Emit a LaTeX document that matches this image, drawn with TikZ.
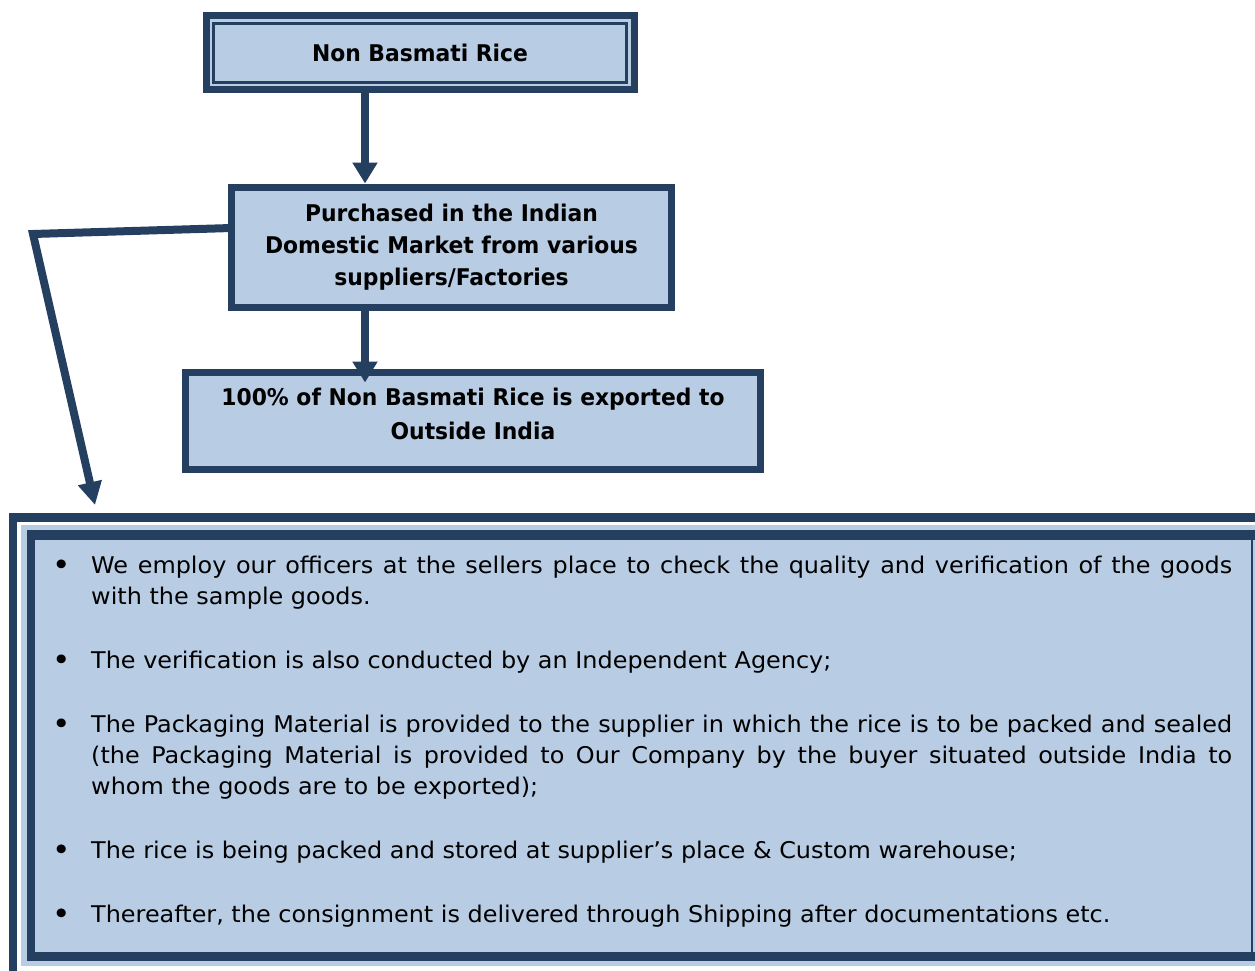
\documentclass[tikz,border=0pt]{standalone}
\usepackage{fontspec}
\setmainfont{DejaVu Sans}[FakeStretch=1.04]
\newfontfamily\boxfont{DejaVu Sans}[FakeStretch=0.95]
\usetikzlibrary{arrows.meta,calc}
\definecolor{navy}{HTML}{243F60}
\definecolor{paleblue}{HTML}{B8CCE4}
\newcommand{\itemdot}{\leavevmode\llap{\raisebox{-2pt}{\fontsize{30}{30}\selectfont\textbullet}\hspace{20pt}}}

\begin{document}
\begin{tikzpicture}[x=1pt,y=-1pt,
  boxframe/.style={draw=navy, fill=paleblue, line width=7pt, inner sep=0pt, outer sep=0pt},
  boxtext/.style={font=\fontsize{23}{32}\selectfont\boxfont\bfseries, align=center, text=black},
  flow/.style={draw=navy, line width=8pt, -{Triangle[width=24pt,length=21pt]}},
]
\useasboundingbox (0,0) rectangle (1255,971);
\clip (0,0) rectangle (1255,971);

% bottom panel: outer thick frame, white gap, pale band, inner framed panel
\fill[navy] (9,513) rectangle (1270,990);
\fill[white] (17,522) rectangle (1270,990);
\fill[paleblue] (21,525) rectangle (1270,966);
\fill[navy] (27,530) rectangle (1270,961);
\fill[paleblue] (35,540) rectangle (1250.5,952);
\fill[paleblue] (1253,540) rectangle (1270,952);

\node[anchor=base west, inner sep=0pt, text=black] (notes) at (91,573) {\parbox[t]{1141pt}{%
  \fontsize{23}{31}\selectfont\setlength{\parskip}{33pt}\setlength{\parindent}{0pt}%
  \itemdot We employ our officers at the sellers place to check the quality and verification of the goods\linebreak with the sample goods.\par
  \itemdot The verification is also conducted by an Independent Agency;\par
  \itemdot The Packaging Material is provided to the supplier in which the rice is to be packed and sealed\linebreak (the Packaging Material is provided to Our Company by the buyer situated outside India to\linebreak whom the goods are to be exported);\par
  \itemdot The rice is being packed and stored at supplier’s place \& Custom warehouse;\par
  \itemdot Thereafter, the consignment is delivered through Shipping after documentations etc.}};

% flow boxes
\node[boxframe, boxtext, minimum width=428pt, minimum height=74pt] (b1) at (420,53) {Non Basmati Rice};
\draw[navy, line width=2.5pt] ($(b1.north west)+(7.5,7.5)$) rectangle ($(b1.south east)+(-7.5,-7.5)$);

\node[boxframe, boxtext, minimum width=440pt, minimum height=120pt] (b2) at (451.5,247.5)
  {Purchased in the Indian\\Domestic Market from various\\suppliers/Factories};

\node[boxframe, minimum width=575pt, minimum height=97pt] (b3) at (473,421) {};
\node[boxtext, font=\fontsize{23}{34}\selectfont\boxfont\bfseries, inner sep=0pt] (t3) at ($(b3.center)+(0,-7)$)
  {100\% of Non Basmati Rice is exported to\\Outside India};

% connectors
\coordinate (ax) at (365,0);
\coordinate (bend) at (33,234);
\coordinate (drop) at (95,505);
\draw[flow, shorten >=4pt] (b1.south -| ax) -- (b2.north -| ax);
\draw[flow] (b2.south -| ax) -- ($(b3.north -| ax)+(0,10)$);
\draw[flow, line join=miter, -{Triangle[width=23pt,length=23pt]}] ([yshift=19.5pt]b2.west) -- (bend) -- (drop);
\end{tikzpicture}
\end{document}
